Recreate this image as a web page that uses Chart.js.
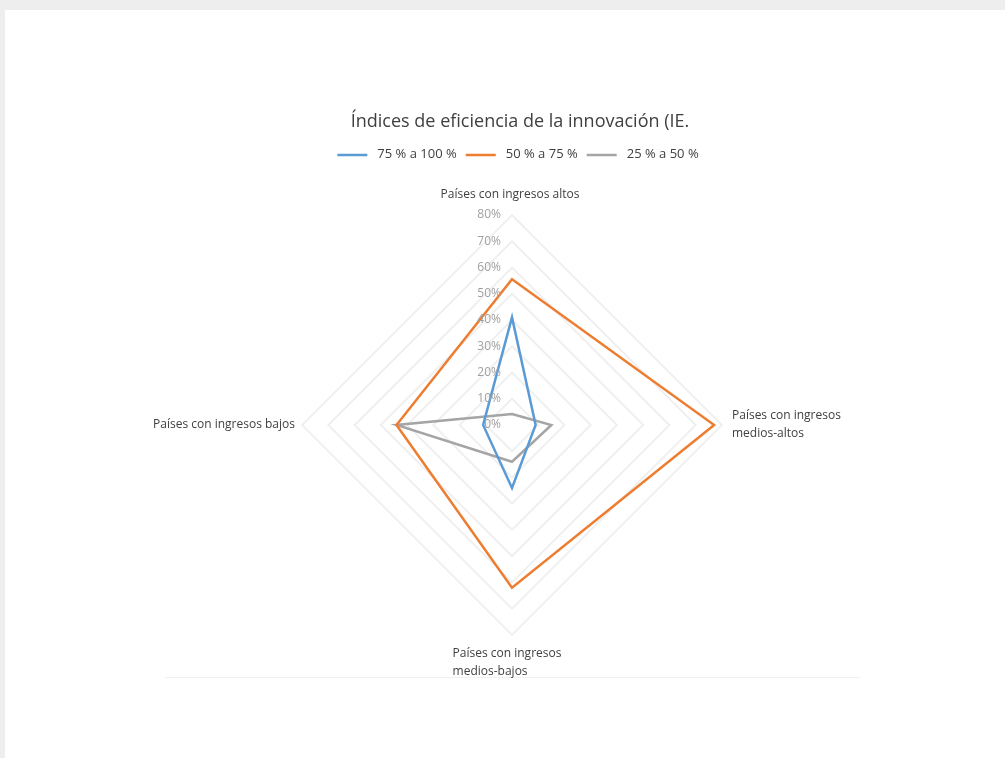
<!DOCTYPE html>
<html>
<head>
<meta charset="utf-8">
<script src="https://cdn.jsdelivr.net/npm/chart.js@4/dist/chart.umd.min.js"></script>
<style>
  html, body { margin:0; padding:0; background:#eeeeee; width:1005px; height:758px; overflow:hidden; }
  #panel { position:absolute; left:5px; top:10px; width:1000px; height:748px; background:#ffffff; }
  #rule { position:absolute; left:165px; top:677px; width:695px; height:0; border-top:1px solid #f0f0f0; }
  #wrap { position:absolute; left:0; top:0; width:1005px; height:758px; }
</style>
</head>
<body>
<div id="panel"></div>
<div id="rule"></div>
<div id="wrap"><canvas id="c" width="1005" height="758"></canvas></div>
<script>
const chartTitle = 'Índices de eficiencia de la innovación (IE.';
const categories = [
  'Países con ingresos altos',
  ['Países con ingresos', 'medios-altos'],
  ['Países con ingresos', 'medios-bajos'],
  'Países con ingresos bajos'
];
const seriesNames = ['75 % a 100 %', '50 % a 75 %', '25 % a 50 %'];
const series75to100 = [41, 9, 24, 11];
const series50to75 = [55.5, 77, 62, 44];
const series25to50 = [4.2, 15, 14, 44];
const tickValues = [0, 10, 20, 30, 40, 50, 60, 70, 80];
const tickLabels = ['0%', '10%', '20%', '30%', '40%', '50%', '60%', '70%', '80%'];
const colors = ['#5B9BD5', '#ED7D31', '#A5A5A5'];

const FAMILY = '"Open Sans", "Noto Sans", sans-serif';
const labelFont = '12px ' + FAMILY;

// Title, legend, tick labels and category labels, positioned relative to the radial scale
const customLabels = {
  id: 'customLabels',
  afterDraw(chart) {
    const s = chart.scales.r;
    const ctx = chart.ctx;
    ctx.save();

    // title
    ctx.font = '18px ' + FAMILY;
    ctx.fillStyle = '#404040';
    ctx.textAlign = 'center';
    ctx.textBaseline = 'alphabetic';
    ctx.fillText(chartTitle, s.xCenter + 8, 127);

    // legend
    ctx.font = '13px ' + FAMILY;
    const lineW = 30, gapText = 10, gapItem = 9;
    const items = chart.data.datasets.map(ds => ({ text: ds.label, color: ds.borderColor, w: ctx.measureText(ds.label).width }));
    const total = items.reduce((a, it) => a + lineW + gapText + it.w, 0) + gapItem * (items.length - 1);
    let x = s.xCenter + 6 - total / 2;
    const ly = 154;
    items.forEach(it => {
      ctx.strokeStyle = it.color;
      ctx.lineWidth = 2.5;
      ctx.beginPath();
      ctx.moveTo(x, ly + 1);
      ctx.lineTo(x + lineW, ly + 1);
      ctx.stroke();
      ctx.fillStyle = '#404040';
      ctx.textAlign = 'left';
      ctx.textBaseline = 'middle';
      ctx.fillText(it.text, x + lineW + gapText, ly);
      x += lineW + gapText + it.w + gapItem;
    });

    // tick labels, right aligned just left of the vertical axis
    ctx.font = labelFont;
    ctx.fillStyle = '#a0a0a0';
    ctx.textAlign = 'right';
    ctx.textBaseline = 'middle';
    tickValues.forEach((v, i) => {
      const d = s.getDistanceFromCenterForValue(v);
      ctx.fillText(tickLabels[i], s.xCenter - 11, s.yCenter - d);
    });

    // category labels
    ctx.fillStyle = '#404040';
    const lh = 18;
    chart.data.labels.forEach((lab, i) => {
      const lines = Array.isArray(lab) ? lab : [lab];
      if (i === 0) {
        const p = s.getPointPosition(i, s.drawingArea + 14);
        ctx.textAlign = 'center'; ctx.textBaseline = 'bottom';
        lines.forEach((t, k) => ctx.fillText(t, p.x - 2, p.y - (lines.length - 1 - k) * lh));
      } else if (i === 1) {
        const p = s.getPointPosition(i, s.drawingArea + 10);
        ctx.textAlign = 'left'; ctx.textBaseline = 'middle';
        const top = p.y - (lines.length - 1) * lh / 2;
        lines.forEach((t, k) => ctx.fillText(t, p.x, top + k * lh));
      } else if (i === 2) {
        const p = s.getPointPosition(i, s.drawingArea + 19);
        ctx.textAlign = 'left'; ctx.textBaseline = 'middle';
        const w = Math.max(...lines.map(t => ctx.measureText(t).width));
        lines.forEach((t, k) => ctx.fillText(t, p.x - w / 2 - 5, p.y + k * lh));
      } else {
        const p = s.getPointPosition(i, s.drawingArea + 7);
        ctx.textAlign = 'right'; ctx.textBaseline = 'middle';
        const top = p.y - (lines.length - 1) * lh / 2;
        lines.forEach((t, k) => ctx.fillText(t, p.x, top + k * lh));
      }
    });
    ctx.restore();
  }
};

new Chart(document.getElementById('c'), {
  type: 'radar',
  data: {
    labels: categories,
    datasets: [
      { label: seriesNames[0], data: series75to100, borderColor: colors[0], backgroundColor: colors[0], borderWidth: 2.5, fill: false, pointRadius: 0, pointHoverRadius: 0, tension: 0 },
      { label: seriesNames[1], data: series50to75, borderColor: colors[1], backgroundColor: colors[1], borderWidth: 2.5, fill: false, pointRadius: 0, pointHoverRadius: 0, tension: 0 },
      { label: seriesNames[2], data: series25to50, borderColor: colors[2], backgroundColor: colors[2], borderWidth: 2.5, fill: false, pointRadius: 0, pointHoverRadius: 0, tension: 0 }
    ]
  },
  options: {
    responsive: false,
    animation: false,
    layout: { padding: { top: 215, left: 302, right: 283, bottom: 123 } },
    plugins: {
      title: { display: false },
      legend: { display: false },
      tooltip: { enabled: false }
    },
    scales: {
      r: {
        min: 0,
        max: 80,
        ticks: { display: false, stepSize: 10 },
        grid: { color: '#efefef', lineWidth: 1.8, circular: false },
        angleLines: { display: false },
        pointLabels: { display: false }
      }
    }
  },
  plugins: [customLabels]
});
</script>
</body>
</html>
